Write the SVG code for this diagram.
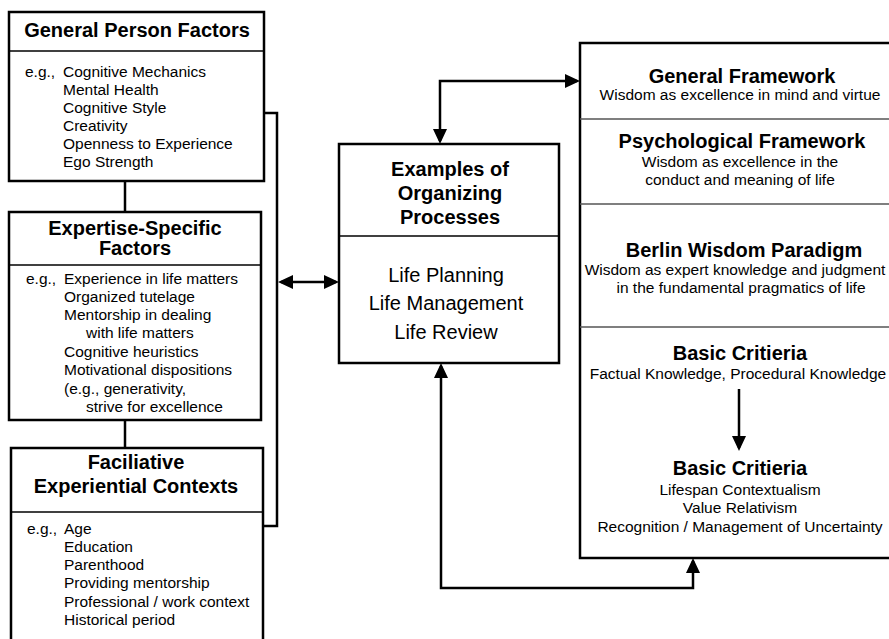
<svg xmlns="http://www.w3.org/2000/svg" width="889" height="639" viewBox="0 0 889 639">
<style>
.box{fill:#fff;stroke:#000;stroke-width:2.5}
.div{stroke:#000;stroke-width:1.5}
.gdiv{stroke:#555;stroke-width:1.5}
.con{fill:none;stroke:#000;stroke-width:2.5}
text{font-family:"Liberation Sans",Arial,sans-serif;fill:#000}
.t{font-size:20px;font-weight:bold;text-anchor:middle}
.b{font-size:15.5px}
.bc{font-size:15.5px;text-anchor:middle}
.m{font-size:20px;text-anchor:middle}
</style>
<defs>
<marker id="ah" markerUnits="userSpaceOnUse" markerWidth="16" markerHeight="14" refX="12" refY="7" orient="auto-start-reverse"><path d="M0,0 L15,7 L0,14 z" fill="#000"/></marker>
</defs>
<rect width="889" height="639" fill="#fff"/>
<g id="connectors">
<path class="con" d="M125,181 V212"/>
<path class="con" d="M125,420 V448"/>
<path class="con" d="M264,113 H277 V526 H263"/>
<path class="con" d="M281,282 H336" marker-start="url(#ah)" marker-end="url(#ah)"/>
<path class="con" d="M440,141 V81 H577" marker-start="url(#ah)" marker-end="url(#ah)"/>
<path class="con" d="M693,561 V588 H441 V366" marker-start="url(#ah)" marker-end="url(#ah)"/>
</g>
<g id="general-person-factors">
<rect class="box" x="9" y="12" width="255" height="169"/>
<line class="div" x1="9" y1="51" x2="264" y2="51"/>
<text class="t" x="137" y="37">General Person Factors</text>
<text class="b" x="25" y="77">e.g.,</text>
<text class="b" x="63" y="77">Cognitive Mechanics</text>
<text class="b" x="63" y="95">Mental Health</text>
<text class="b" x="63" y="113">Cognitive Style</text>
<text class="b" x="63" y="131">Creativity</text>
<text class="b" x="63" y="149">Openness to Experience</text>
<text class="b" x="63" y="167">Ego Strength</text>
</g>
<g id="expertise-specific-factors">
<rect class="box" x="9" y="212" width="252" height="208"/>
<line class="div" x1="9" y1="265" x2="261" y2="265"/>
<text class="t" x="135" y="235">Expertise-Specific</text>
<text class="t" x="135" y="255">Factors</text>
<text class="b" x="26" y="284">e.g.,</text>
<text class="b" x="64" y="284">Experience in life matters</text>
<text class="b" x="64" y="302">Organized tutelage</text>
<text class="b" x="64" y="320">Mentorship in dealing</text>
<text class="b" x="86" y="338">with life matters</text>
<text class="b" x="64" y="357">Cognitive heuristics</text>
<text class="b" x="64" y="375">Motivational dispositions</text>
<text class="b" x="64" y="394">(e.g., generativity,</text>
<text class="b" x="86" y="412">strive for excellence</text>
</g>
<g id="facilitative-experiential-contexts">
<rect class="box" x="11" y="448" width="252" height="220"/>
<line class="div" x1="11" y1="512" x2="263" y2="512"/>
<text class="t" x="136" y="469">Faciliative</text>
<text class="t" x="136" y="493">Experiential Contexts</text>
<text class="b" x="27" y="534">e.g.,</text>
<text class="b" x="64" y="534">Age</text>
<text class="b" x="64" y="552">Education</text>
<text class="b" x="64" y="570">Parenthood</text>
<text class="b" x="64" y="588">Providing mentorship</text>
<text class="b" x="64" y="607">Professional / work context</text>
<text class="b" x="64" y="625">Historical period</text>
</g>
<g id="organizing-processes">
<rect class="box" x="339" y="144" width="220" height="219"/>
<line class="div" x1="339" y1="236" x2="559" y2="236"/>
<text class="t" x="450" y="176">Examples of</text>
<text class="t" x="450" y="200">Organizing</text>
<text class="t" x="450" y="224">Processes</text>
<text class="m" x="446" y="282">Life Planning</text>
<text class="m" x="446" y="310">Life Management</text>
<text class="m" x="446" y="339">Life Review</text>
</g>
<g id="wisdom-frameworks">
<rect class="box" x="580" y="43" width="330" height="515"/>
<line class="gdiv" x1="580" y1="119" x2="889" y2="119"/>
<line class="gdiv" x1="580" y1="204" x2="889" y2="204"/>
<line class="gdiv" x1="580" y1="327" x2="889" y2="327"/>
<text class="t" x="742" y="83">General Framework</text>
<text class="bc" x="740" y="100">Wisdom as excellence in mind and virtue</text>
<text class="t" x="742" y="148">Psychological Framework</text>
<text class="bc" x="740" y="167">Wisdom as excellence in the</text>
<text class="bc" x="740" y="185">conduct and meaning of life</text>
<text class="t" x="744" y="257">Berlin Wisdom Paradigm</text>
<text class="bc" x="735" y="275">Wisdom as expert knowledge and judgment</text>
<text class="bc" x="741" y="293">in the fundamental pragmatics of life</text>
<text class="t" x="740" y="360">Basic Critieria</text>
<text class="bc" x="738" y="379">Factual Knowledge, Procedural Knowledge</text>
<path class="con" d="M739,389 V448" marker-end="url(#ah)"/>
<text class="t" x="740" y="475">Basic Critieria</text>
<text class="bc" x="740" y="495">Lifespan Contextualism</text>
<text class="bc" x="740" y="513">Value Relativism</text>
<text class="bc" x="740" y="532">Recognition / Management of Uncertainty</text>
</g>
</svg>
